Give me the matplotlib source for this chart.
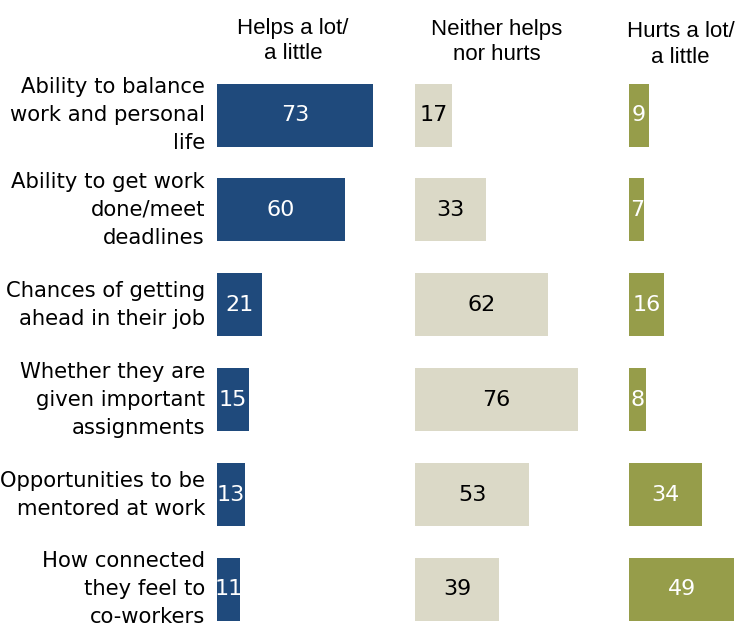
import matplotlib.pyplot as plt

categories = [
    "Ability to balance\nwork and personal\nlife",
    "Ability to get work\ndone/meet\ndeadlines",
    "Chances of getting\nahead in their job",
    "Whether they are\ngiven important\nassignments",
    "Opportunities to be\nmentored at work",
    "How connected\nthey feel to\nco-workers",
]
helps = [73, 60, 21, 15, 13, 11]
neither = [17, 33, 62, 76, 53, 39]
hurts = [9, 7, 16, 8, 34, 49]

headers = ["Helps a lot/\na little", "Neither helps\nnor hurts", "Hurts a lot/\na little"]

BLUE = "#1f4a7c"
BEIGE = "#dbd9c7"
GREEN = "#969d4a"

fig = plt.figure(figsize=(7.45, 6.26), dpi=100)
ax = fig.add_axes([0, 0, 1, 1])
ax.set_xlim(-101.5, 247.1)
ax.set_ylim(5.385, -1.212)
ax.axis("off")

label_font = ["DejaVu Sans"]
head_font = ["Liberation Sans", "DejaVu Sans"]

# each column starts at its own offset on a shared value scale
columns = [
    (helps, 0, BLUE, "white", 35.6, -0.78),
    (neither, 92.9, BEIGE, "black", 131, -0.77),
    (hurts, 193.0, GREEN, "white", 217, -0.74),
]
rows = range(len(categories))

for (vals, start, color, tcolor, hx, hy), head in zip(columns, headers):
    ax.barh(list(rows), vals, left=start, height=0.664, color=color)
    for i, v in zip(rows, vals):
        ax.text(start + v / 2, i, str(v), ha="center", va="center",
                color=tcolor, fontsize=16, family=label_font)
    ax.text(hx, hy, head, ha="center", va="center", fontsize=16,
            family=head_font, linespacing=1.3)

for i, name in zip(rows, categories):
    ax.text(-5.6, i, name, ha="right", va="center", fontsize=15.2,
            family=label_font, linespacing=1.5)

fig.savefig("out.png", dpi=100)
